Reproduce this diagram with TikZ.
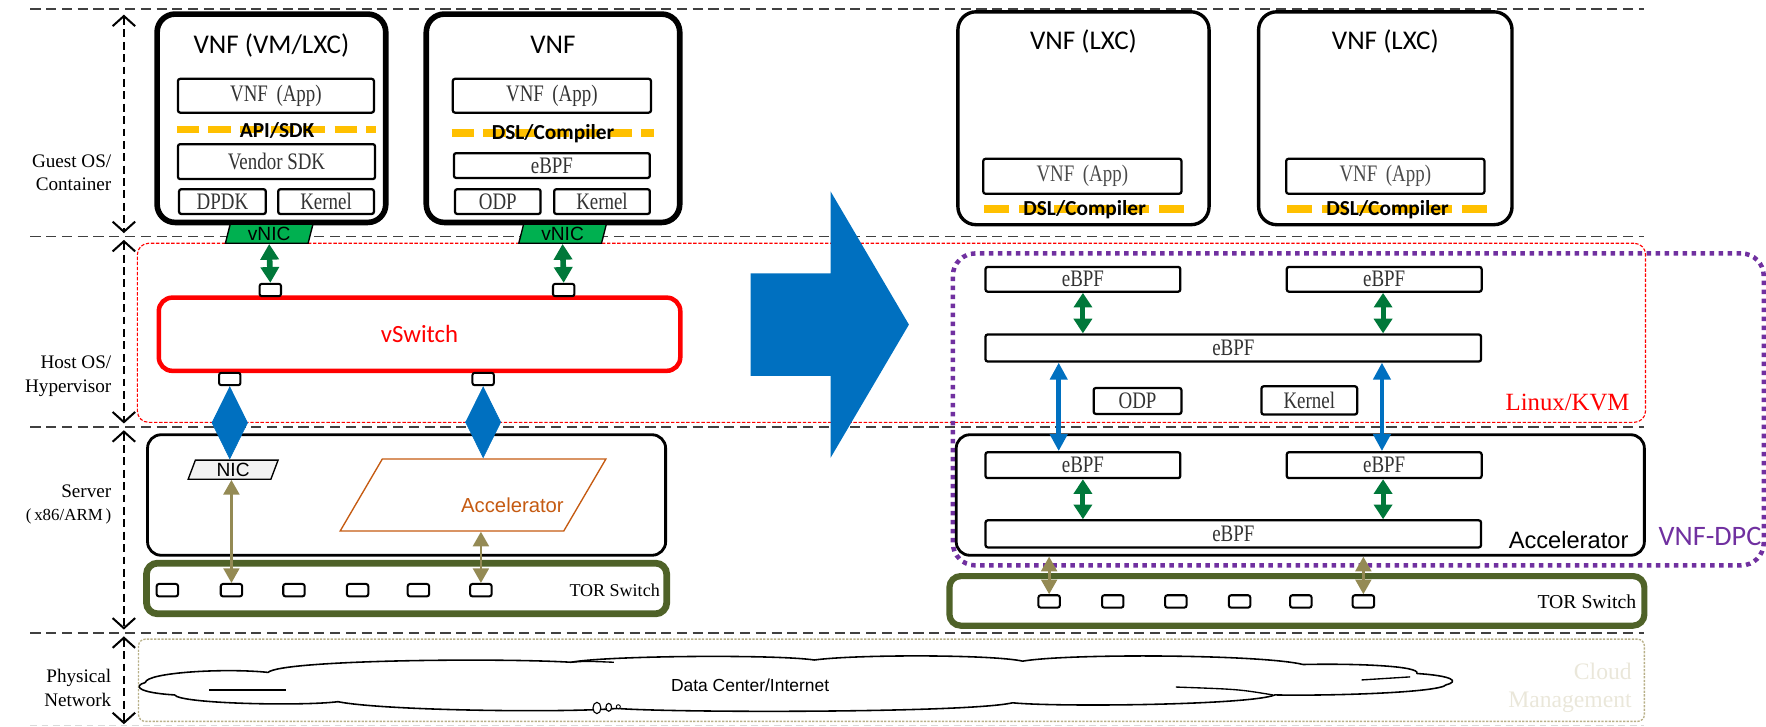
\documentclass[tikz,border=0pt]{standalone}
\usepackage{graphicx}
\usepackage{fontspec}
\setmainfont{Liberation Serif}
\newfontfamily\carlito{Carlito}
\newfontfamily\arialf{Liberation Sans}
\usetikzlibrary{arrows.meta,shapes.geometric}
\newcommand{\mtxt}[1]{\scalebox{0.8}[1]{#1}}
\newcommand{\appname}{VNF\hspace{0.45em}(App)}
\definecolor{dashgray}{HTML}{404040}
\definecolor{ablue}{HTML}{0070C0}
\definecolor{agreen}{HTML}{00783A}
\definecolor{vgreen}{HTML}{00B050}
\definecolor{ayellow}{HTML}{FFC000}
\definecolor{aolive}{HTML}{948A54}
\definecolor{torg}{HTML}{4F6228}
\definecolor{apurple}{HTML}{7030A0}
\definecolor{abrown}{HTML}{C55A11}
\definecolor{cmgmt}{HTML}{EAE7DA}
\definecolor{physb}{HTML}{B8B088}
\definecolor{monogray}{HTML}{333333}
\definecolor{monolight}{HTML}{4A4A4A}
\begin{document}
\begin{tikzpicture}[x=1pt,y=-1pt,
  hd/.style={draw=dashgray, line width=1.5pt, dash pattern=on 9pt off 5pt},
  vd/.style={draw=black, line width=1.8pt, dash pattern=on 7pt off 4pt,
     {Straight Barb[length=9pt,width=20pt]}-{Straight Barb[length=9pt,width=20pt]}},
  lbl/.style={anchor=east, align=right, inner sep=0pt, font=\fontsize{17}{21}\selectfont},
  title/.style={font=\carlito\fontsize{24}{28}\selectfont, inner sep=0pt},
  bigbox/.style={draw=black, line width=5pt, rounded corners=16pt, inner sep=0pt},
  rbox/.style={draw=black, line width=3pt, rounded corners=16pt, inner sep=0pt},
  inbox/.style={draw=black, line width=2pt, rounded corners=2pt, inner sep=0pt, text=monogray,
     font=\fontsize{21}{22}\selectfont},
  port/.style={draw=black, fill=white, line width=1.8pt, rounded corners=2pt,
     minimum width=19pt, minimum height=11pt, inner sep=0pt},
  ylw/.style={draw=ayellow, line width=7pt, dash pattern=on 20pt off 8pt},
  ylbl/.style={font=\carlito\bfseries\fontsize{19}{22}\selectfont, inner sep=0pt},
  para/.style={trapezium, trapezium left angle=#1, trapezium right angle=180-#1,
     trapezium stretches=true, inner sep=1pt},
  garrow/.style={draw=agreen, line width=5pt,
     {Triangle[width=16pt,length=14pt]}-{Triangle[width=16pt,length=14pt]}},
  gsarrow/.style={draw=agreen, line width=4.5pt,
     {Triangle[width=16pt,length=13pt]}-{Triangle[width=16pt,length=13pt]}},
  barrow/.style={draw=ablue, line width=4pt,
     {Triangle[width=15pt,length=15pt]}-{Triangle[width=15pt,length=15pt]}},
  diam/.style={draw=ablue, line width=0.5pt,
     {Triangle[width=32pt,length=32.5pt]}-{Triangle[width=32pt,length=32.5pt]}},
  oarrow/.style={draw=aolive, line width=2.5pt,
     {Triangle[width=14pt,length=13pt]}-{Triangle[width=14pt,length=13pt]}},
  tor/.style={draw=torg, line width=6pt, rounded corners=10pt, inner sep=0pt},
  torlbl/.style={anchor=east, inner sep=0pt},
]
\useasboundingbox (0,0) rectangle (1568,645);

% ---------- layer separators ----------
\draw[hd] (27,8) -- (1460,8);
\draw[hd] (27,210) -- (1460,210);
\draw[hd] (27,379) -- (1460,379);
\draw[hd] (27,562) -- (1460,562);
\draw[draw=black!15, line width=1.2pt, dash pattern=on 6pt off 4pt] (27,644) -- (1460,644);

\coordinate (ga) at (110,13);  \coordinate (gb) at (110,207);
\coordinate (ha) at (110,213); \coordinate (hb) at (110,376);
\coordinate (sa) at (110,382); \coordinate (sb) at (110,559);
\coordinate (na) at (110,565); \coordinate (nb) at (110,643);
\draw[vd] (ga) -- (gb);
\draw[vd] (ha) -- (hb);
\draw[vd] (sa) -- (sb);
\draw[vd] (na) -- (nb);

\node[lbl] (lguest) at (99,153.5) {Guest OS/\\Container};
\node[lbl] (lhost) at (99,334) {Host OS/\\Hypervisor};
\node[lbl] (lserver) at (99,448) {Server\\{\fontsize{15}{18}\selectfont(\,x86/ARM\,)}};
\node[lbl] (lphys) at (99,611) {Physical\\Network};

% ---------- regions ----------
\node[draw=red, line width=1pt, dash pattern=on 3pt off 1.5pt, rounded corners=10pt,
      minimum width=1339pt, minimum height=159pt, inner sep=0pt] (linux) at (791.5,295.5) {};
\node[draw=physb, line width=1.2pt, dash pattern=on 2pt off 1.2pt, rounded corners=6pt,
      minimum width=1337pt, minimum height=73pt, inner sep=0pt] (phys) at (791.5,604) {};

% ---------- left: VNFs ----------
\node[bigbox, minimum width=203pt, minimum height=185pt] (vnf1) at (241,105) {};
\node[title] (t1) at (241,40) {VNF (VM/LXC)};
\node[inbox, minimum width=174pt, minimum height=30pt] (app1) at (245,85) {\mtxt{\appname}};
\draw[ylw] (157,115) -- (334,115);
\node[ylbl] (api) at (246,116) {API/SDK};
\node[inbox, minimum width=175pt, minimum height=31pt] (vsdk) at (245.5,143.5) {\mtxt{Vendor SDK}};
\node[inbox, minimum width=77pt, minimum height=22pt] (dpdk) at (197.5,179) {\mtxt{DPDK}};
\node[inbox, minimum width=85pt, minimum height=22pt] (kern1) at (289.5,179) {\mtxt{Kernel}};

\node[bigbox, minimum width=225pt, minimum height=185pt] (vnf2) at (491,105) {};
\node[title] (t2) at (491,40) {VNF};
\node[inbox, minimum width=176pt, minimum height=30pt] (app2) at (490,85) {\mtxt{\appname}};
\draw[ylw] (401,118) -- (581,118);
\node[ylbl] (dsl0) at (491,119) {DSL/Compiler};
\node[inbox, minimum width=174pt, minimum height=22pt] (ebpf0) at (490,147) {\mtxt{eBPF}};
\node[inbox, minimum width=76pt, minimum height=22pt] (odp0) at (442,179) {\mtxt{ODP}};
\node[inbox, minimum width=85pt, minimum height=22pt] (kern0) at (534.5,179) {\mtxt{Kernel}};

\node[para=80, draw=black, fill=vgreen, line width=1.2pt, minimum width=78pt, minimum height=17pt,
      font=\arialf\fontsize{17}{17}\selectfont] (vnic1) at (239,207.5) {vNIC};
\node[para=80, draw=black, fill=vgreen, line width=1.2pt, minimum width=78pt, minimum height=17pt,
      font=\arialf\fontsize{17}{17}\selectfont] (vnic2) at (499.5,207.5) {vNIC};

% ---------- vSwitch ----------
\node[draw=red, line width=4pt, rounded corners=12pt, minimum width=463pt, minimum height=65pt,
      inner sep=0pt, text=red, font=\carlito\fontsize{22}{24}\selectfont] (vsw) at (372.5,296.75) {vSwitch};
\node[port] (p1) at (240,257.5) {};
\node[port] (p2) at (500.5,257.5) {};
\node[port] (p3) at (204,336.5) {};
\node[port] (p4) at (429,336.5) {};
\draw[garrow] (vnic1.south) -- (p1.north);
\draw[garrow] (vnic2.south) -- (p2.north);

% ---------- server ----------
\node[draw=black, line width=2.5pt, rounded corners=12pt, minimum width=460pt, minimum height=107pt,
      inner sep=0pt] (server) at (361,439.5) {};
\node[para=78, draw=black, fill=black!5, line width=1.2pt, minimum width=80pt, minimum height=17pt,
      font=\arialf\fontsize{17}{17}\selectfont] (nic) at (207,417) {NIC};
\node[para=76, draw=abrown, line width=1.2pt, minimum width=236pt, minimum height=64pt] (acc) at (420,439.5) {\phantom{A}};
\node[text=abrown, inner sep=0pt, font=\arialf\fontsize{18}{20}\selectfont] (acctxt) at (455,449) {Accelerator};
\draw[diam] (p3.south) -- (p3.south |- nic.north);
\draw[diam] (p4.south) -- (p4.south |- acc.north);

% ---------- left TOR ----------
\node[tor, minimum width=462pt, minimum height=45pt] (torl) at (361,522.5) {};
\foreach \i/\x in {1/148.6,2/205.5,3/261,4/317.5,5/371.5,6/427} {
  \node[port] (lp\i) at (\x,524) {};
}
\node[torlbl, font=\fontsize{16}{18}\selectfont] (torltxt) at (586,524) {TOR Switch};
\draw[oarrow] (lp2.north |- nic.south) -- (lp2.north);
\draw[oarrow] (lp6.north |- acc.south) -- (lp6.north);

% ---------- big arrow ----------
\fill[ablue] (666.5,242.7) -- (737.5,242.7) -- (737.5,170) -- (807,288.2) -- (737.5,406.4)
   -- (737.5,333.8) -- (666.5,333.8) -- cycle;

% ---------- right: VNFs ----------
\node[rbox, minimum width=223pt, minimum height=189pt] (vnf3) at (962,105) {};
\node[rbox, minimum width=225pt, minimum height=189pt] (vnf4) at (1230,105) {};
\node[title] (t3) at (962,37) {VNF (LXC)};
\node[title] (t4) at (1230,37) {VNF (LXC)};
\node[inbox, text=monolight, minimum width=176pt, minimum height=31pt] (app3) at (961,156.5) {\mtxt{\appname}};
\node[inbox, text=monolight, minimum width=176pt, minimum height=31pt] (app4) at (1230,156.5) {\mtxt{\appname}};
\draw[ylw, dash pattern=on 22pt off 9pt] (874,185.6) -- (1053,185.6);
\draw[ylw, dash pattern=on 22pt off 9pt] (1143,185.6) -- (1322,185.6);
\node[ylbl] (dsl1) at (963,186) {DSL/Compiler};
\node[ylbl] (dsl2) at (1232,186) {DSL/Compiler};

% ---------- VNF-DPC ----------
\node[draw=apurple, line width=4pt, dash pattern=on 4pt off 4pt, rounded corners=20pt,
      minimum width=720pt, minimum height=277pt, inner sep=0pt] (dpc) at (1206,363.5) {};
\node[anchor=east, inner sep=0pt, text=apurple, font=\carlito\fontsize{25}{28}\selectfont] (dpctxt) at (1564,476.5) {VNF-DPC};

% ---------- right host ----------
\node[inbox, minimum width=173pt, minimum height=22pt] (e1) at (961.5,248) {\mtxt{eBPF}};
\node[inbox, minimum width=173pt, minimum height=22pt] (e2) at (1229,248) {\mtxt{eBPF}};
\node[inbox, minimum width=440pt, minimum height=24pt] (e3) at (1095,309) {\mtxt{eBPF}};
\node[inbox, minimum width=78pt, minimum height=23pt] (odp) at (1010,356) {\mtxt{ODP}};
\node[inbox, minimum width=85pt, minimum height=25pt] (kern) at (1162.5,355.5) {\mtxt{Kernel}};
\node[anchor=east, inner sep=0pt, text=red, font=\fontsize{22}{24}\selectfont] (lkvm) at (1447,357) {Linux/KVM};
\draw[gsarrow] (e1.south) -- (e1.south |- e3.north);
\draw[gsarrow] ([xshift=-1pt]e2.south) -- ([xshift=-1pt]e2.south |- e3.north);

% ---------- right accelerator ----------
\node[draw=black, line width=2.5pt, rounded corners=12pt, minimum width=611pt, minimum height=107pt,
      inner sep=0pt] (accr) at (1154.5,439.5) {};
\node[inbox, minimum width=173pt, minimum height=23pt] (e4) at (961.5,413) {\mtxt{eBPF}};
\node[inbox, minimum width=173pt, minimum height=23pt] (e5) at (1229,413) {\mtxt{eBPF}};
\node[inbox, minimum width=440pt, minimum height=24pt] (e6) at (1095,474) {\mtxt{eBPF}};
\node[anchor=east, inner sep=0pt, font=\arialf\fontsize{21}{24}\selectfont] (accrtxt) at (1446,479.5) {Accelerator};
\draw[gsarrow] (e4.south) -- (e4.south |- e6.north);
\draw[gsarrow] ([xshift=-1pt]e5.south) -- ([xshift=-1pt]e5.south |- e6.north);
\draw[barrow] ([xshift=-21.5pt]e3.south -| e4.north) -- ([xshift=-21.5pt]e4.north);
\draw[barrow] ([xshift=-2pt]e3.south -| e5.north) -- ([xshift=-2pt]e5.north);

% ---------- right TOR ----------
\node[tor, line width=5.5pt, minimum width=617pt, minimum height=44pt] (torr) at (1151.5,533.5) {};
\foreach \i/\x in {1/931.5,2/988,3/1044,4/1100.6,5/1155,6/1210.5} {
  \node[port] (rp\i) at (\x,534) {};
}
\node[torlbl, font=\fontsize{17.5}{19}\selectfont] (torrtxt) at (1453,534) {TOR Switch};
\draw[oarrow] (rp1.north |- accr.south) -- (rp1.north);
\draw[oarrow] (rp6.north |- accr.south) -- (rp6.north);

% ---------- physical network: flattened cloud ----------
\draw[line width=1.4pt, line join=round]
  (129,606) .. controls (130,597) and (200,593) .. (238,597)
  .. controls (250,586) and (440,584) .. (507,588)
  .. controls (540,582) and (690,581) .. (723,586)
  .. controls (760,581) and (880,581) .. (908,587)
  .. controls (950,580) and (1120,581) .. (1157,590)
  .. controls (1200,589) and (1262,591) .. (1258,598)
  .. controls (1290,600) and (1296,605) .. (1284,608)
  .. controls (1278,615) and (1180,618) .. (1132,617)
  .. controls (1110,626) and (940,628) .. (899,624)
  .. controls (860,633) and (600,633) .. (548,629)
  .. controls (500,633) and (340,631) .. (300,623)
  .. controls (270,627) and (160,625) .. (155,617)
  .. controls (122,615) and (118,609) .. (129,606);
\draw[line width=1.2pt] (186,612.6) -- (254,612.6);
\draw[line width=1.2pt] (1209,603.7) .. controls (1230,602) .. (1252,601);
\draw[line width=1.2pt] (1044,610) .. controls (1100,612) .. (1130,617);
\draw[line width=1.2pt] (507,588) .. controls (520,587) .. (545,588);
\draw[line width=1pt, fill=white] (530,628.6) ellipse [x radius=3.5, y radius=5];
\draw[line width=1pt, fill=white] (540.5,628) ellipse [x radius=2.5, y radius=3.5];
\draw[line width=0.8pt, fill=white] (549,627.5) circle [radius=1.8];
\node[inner sep=0pt, font=\arialf\fontsize{15.5}{17}\selectfont] (dc) at (666,608) {Data Center/Internet};
\node[anchor=east, align=right, inner sep=0pt, text=cmgmt, font=\fontsize{21}{25}\selectfont] (cm) at (1449,610.5) {Cloud\\Management};
\end{tikzpicture}
\end{document}
